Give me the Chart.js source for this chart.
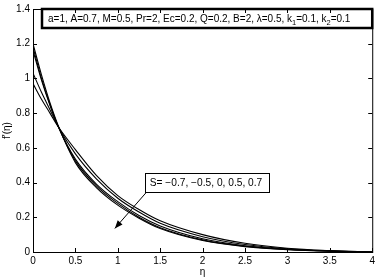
<!DOCTYPE html>
<html>
<head>
<meta charset="utf-8">
<script src="https://cdn.jsdelivr.net/npm/chart.js@4.4.1/dist/chart.umd.min.js"></script>
<style>
  html, body { margin: 0; padding: 0; background: #fff; }
  #wrap { width: 378px; height: 278px; }
</style>
</head>
<body>
<div id="wrap"><canvas id="chart" width="378" height="278"></canvas></div>
<script>
// valeurs de η
const etaValues = [0, 0.1, 0.2, 0.3, 0.5, 0.75, 1, 1.25, 1.5, 2, 2.5, 3, 3.5, 4];

// f'(η) pour S = -0.7, -0.5, 0, 0.5, 0.7
const fS1 = [0.97, 0.88, 0.80, 0.72, 0.59, 0.44, 0.325, 0.245, 0.18, 0.100, 0.050, 0.022, 0.008, 0];
const fS2 = [1.03, 0.92, 0.82, 0.72, 0.565, 0.42, 0.31, 0.230, 0.165, 0.088, 0.043, 0.019, 0.007, 0];
const fS3 = [1.16, 0.99, 0.845, 0.72, 0.535, 0.39, 0.29, 0.210, 0.150, 0.076, 0.036, 0.016, 0.006, 0];
const fS4 = [1.18, 1.00, 0.85, 0.72, 0.525, 0.38, 0.28, 0.200, 0.140, 0.070, 0.033, 0.014, 0.005, 0];
const fS5 = [1.20, 1.02, 0.86, 0.725, 0.515, 0.37, 0.27, 0.195, 0.135, 0.066, 0.031, 0.013, 0.004, 0];

const xTicks = [0, 0.5, 1, 1.5, 2, 2.5, 3, 3.5, 4];
const yTicks = [0, 0.2, 0.4, 0.6, 0.8, 1, 1.2, 1.4];

const FONT = "'Liberation Sans', Arial, sans-serif";

function toPoints(ys) {
    return etaValues.map((x, i) => ({ x: x, y: ys[i] }));
}

function makeDataset(ys) {
    return {
        data: toPoints(ys),
        borderColor: '#000',
        borderWidth: 1.1,
        pointRadius: 0,
        fill: false,
        cubicInterpolationMode: 'monotone'
    };
}

// Cadre, graduations internes, encadrés et titres des axes
const decorPlugin = {
    id: 'decor',
    afterDraw(chart) {
        const ctx = chart.ctx;
        const a = chart.chartArea;
        const xs = chart.scales.x, ys = chart.scales.y;
        ctx.save();
        ctx.strokeStyle = '#000';
        ctx.fillStyle = '#000';
        ctx.lineWidth = 1;
        ctx.strokeRect(a.left + 0.5, a.top + 0.5, a.right - a.left, a.bottom - a.top);

        // graduations vers l'intérieur
        ctx.beginPath();
        xTicks.forEach(v => {
            const px = Math.round(xs.getPixelForValue(v)) + 0.5;
            ctx.moveTo(px, a.bottom); ctx.lineTo(px, a.bottom - 4);
            ctx.moveTo(px, a.top); ctx.lineTo(px, a.top + 4);
        });
        yTicks.forEach(v => {
            const py = Math.round(ys.getPixelForValue(v)) + 0.5;
            ctx.moveTo(a.left, py); ctx.lineTo(a.left + 4, py);
            ctx.moveTo(a.right, py); ctx.lineTo(a.right - 4, py);
        });
        ctx.stroke();

        // encadré des paramètres
        ctx.lineWidth = 2.5;
        ctx.strokeRect(a.left + 9, a.top, a.right - a.left - 9, 19);
        const parts = [
            ['a=1, A=0.7, M=0.5, Pr=2, Ec=0.2, Q=0.2, B=2, λ=0.5, k', 0],
            ['1', 1], ['=0.1, k', 0], ['2', 1], ['=0.1', 0]
        ];
        let tx = a.left + 15;
        const base = a.top + 13;
        parts.forEach(([t, sub]) => {
            ctx.font = (sub ? '7.5px ' : '10px ') + FONT;
            ctx.fillText(t, tx, base + (sub ? 3 : 0));
            tx += ctx.measureText(t).width;
        });

        // encadré S et flèche
        const bx1 = xs.getPixelForValue(1.318), bx2 = xs.getPixelForValue(2.776);
        const by1 = ys.getPixelForValue(0.453), by2 = ys.getPixelForValue(0.346);
        ctx.lineWidth = 1;
        ctx.strokeRect(Math.round(bx1) + 0.5, Math.round(by1) + 0.5, Math.round(bx2 - bx1), Math.round(by2 - by1));
        ctx.font = '10.2px ' + FONT;
        ctx.fillText('S= \u22120.7, \u22120.5, 0, 0.5, 0.7', bx1 + 5, by1 + 13);

        const sx = xs.getPixelForValue(1.33), sy = ys.getPixelForValue(0.34);
        const ex = xs.getPixelForValue(0.965), ey = ys.getPixelForValue(0.136);
        ctx.beginPath();
        ctx.moveTo(sx, sy); ctx.lineTo(ex, ey);
        ctx.stroke();
        const ang = Math.atan2(ey - sy, ex - sx);
        const L = 8, W = 3.2;
        ctx.beginPath();
        ctx.moveTo(ex, ey);
        ctx.lineTo(ex - L * Math.cos(ang) + W * Math.sin(ang), ey - L * Math.sin(ang) - W * Math.cos(ang));
        ctx.lineTo(ex - L * Math.cos(ang) - W * Math.sin(ang), ey - L * Math.sin(ang) + W * Math.cos(ang));
        ctx.closePath();
        ctx.fill();

        // titres des axes
        ctx.font = '10px ' + FONT;
        ctx.textAlign = 'center';
        ctx.fillText('\u03B7', (a.left + a.right) / 2, 275);
        ctx.save();
        ctx.translate(10, (a.top + a.bottom) / 2);
        ctx.rotate(-Math.PI / 2);
        ctx.fillText("f'(\u03B7)", 0, 0);
        ctx.restore();
        ctx.restore();
    }
};

new Chart(document.getElementById('chart'), {
    type: 'line',
    data: {
        datasets: [fS1, fS2, fS3, fS4, fS5].map(makeDataset)
    },
    options: {
        responsive: false,
        animation: false,
        layout: { padding: { left: 0, right: 5, top: 5, bottom: 0 } },
        plugins: { legend: { display: false }, tooltip: { enabled: false } },
        scales: {
            x: {
                type: 'linear',
                min: 0, max: 4,
                afterFit: s => { s.height = 26; },
                afterBuildTicks: s => { s.ticks = xTicks.map(v => ({ value: v })); },
                grid: { display: false, drawTicks: false, tickLength: 0 },
                border: { display: false },
                ticks: {
                    color: '#000', padding: 3, maxRotation: 0,
                    font: { family: FONT, size: 10 },
                    callback: v => String(v)
                }
            },
            y: {
                min: 0, max: 1.4,
                afterFit: s => { s.width = 33; },
                afterBuildTicks: s => { s.ticks = yTicks.map(v => ({ value: v })); },
                grid: { display: false, drawTicks: false, tickLength: 0 },
                border: { display: false },
                ticks: {
                    color: '#000', padding: 3,
                    font: { family: FONT, size: 10 },
                    callback: v => String(Math.round(v * 10) / 10)
                }
            }
        }
    },
    plugins: [decorPlugin]
});
</script>
</body>
</html>
